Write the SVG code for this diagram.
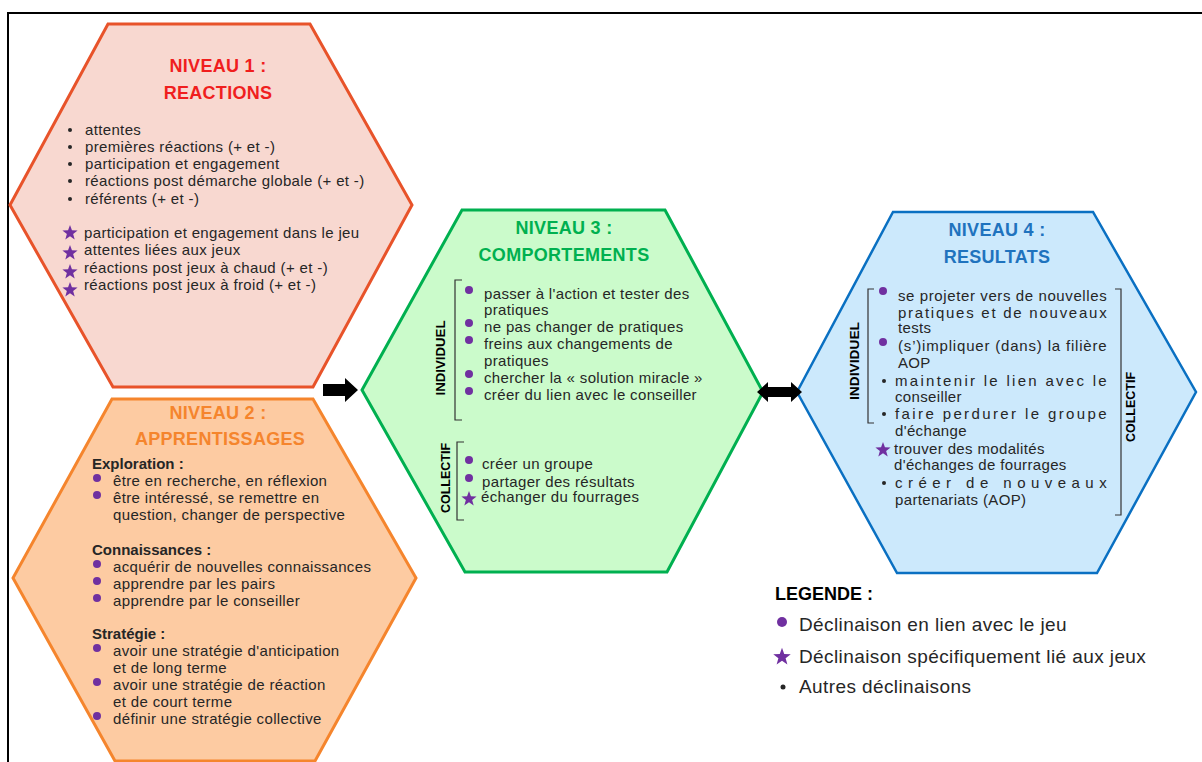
<svg xmlns="http://www.w3.org/2000/svg" xmlns:xlink="http://www.w3.org/1999/xlink" width="1202" height="762" viewBox="0 0 1202 762">
<style>
text{font-family:"Liberation Sans",Arial,sans-serif;}
.t{font-size:15px;letter-spacing:0.35px;fill:#262626;}
.h{font-size:18px;font-weight:bold;text-anchor:middle;letter-spacing:0.3px;}
.b{font-size:15px;font-weight:bold;fill:#262626;}
.v{font-size:13px;font-weight:bold;fill:#000;text-anchor:middle;}
.lg{font-size:19px;letter-spacing:0.4px;fill:#262626;}
.dot{fill:#7030A0;}
.bul{fill:#262626;}
.br{fill:none;stroke:#333;stroke-width:1.2;}
</style>
<defs>
<path id="star" d="M0,-8 L1.94,-2.67 L7.61,-2.47 L3.14,1.02 L4.70,6.47 L0,3.3 L-4.70,6.47 L-3.14,1.02 L-7.61,-2.47 L-1.94,-2.67 Z" fill="#7030A0"/>
</defs>
<rect width="1202" height="762" fill="#fff"/>
<path d="M8,762 L8,13 L1202,13" fill="none" stroke="#000" stroke-width="2"/>

<g id="niveau1">
<polygon points="108,24 310,24 412,205 313,387 113,387 10,205" fill="#F8D8D0" stroke="#E8532A" stroke-width="3"/>
<text class="h" x="218" y="72" fill="#F01E1E">NIVEAU 1  :</text>
<text class="h" x="218" y="99" fill="#F01E1E">REACTIONS</text>
<circle class="bul" cx="70" cy="130" r="2"/>
<circle class="bul" cx="70" cy="147" r="2"/>
<circle class="bul" cx="70" cy="164" r="2"/>
<circle class="bul" cx="70" cy="181" r="2"/>
<circle class="bul" cx="70" cy="199" r="2"/>
<text class="t" x="85" y="135">attentes</text>
<text class="t" x="85" y="152">premières réactions (+ et -)</text>
<text class="t" x="85" y="169">participation et engagement</text>
<text class="t" x="85" y="186">réactions post démarche globale (+ et -)</text>
<text class="t" x="85" y="204">référents (+ et -)</text>
<use xlink:href="#star" x="70" y="233"/>
<use xlink:href="#star" x="70" y="253"/>
<use xlink:href="#star" x="70" y="272"/>
<use xlink:href="#star" x="70" y="290"/>
<text class="t" x="84" y="238">participation et engagement dans le jeu</text>
<text class="t" x="84" y="255">attentes liées aux jeux</text>
<text class="t" x="84" y="273">réactions post jeux à chaud  (+ et -)</text>
<text class="t" x="84" y="290">réactions post jeux à froid (+ et -)</text>
</g>

<g id="niveau2">
<polygon points="112,399 313,399 416,578 315,761 115,761 13,578" fill="#FDCBA2" stroke="#F5852D" stroke-width="3"/>
<text class="h" x="218" y="419" fill="#F5852D">NIVEAU 2 :</text>
<text class="h" x="220" y="445" fill="#F5852D">APPRENTISSAGES</text>
<text class="b" x="92" y="469">Exploration  :</text>
<circle class="dot" cx="97" cy="478" r="4"/>
<circle class="dot" cx="97" cy="495" r="4"/>
<text class="t" x="113" y="486">être en recherche, en réflexion</text>
<text class="t" x="113" y="503">être intéressé, se remettre en</text>
<text class="t" x="113" y="520">question, changer de perspective</text>
<text class="b" x="92" y="555">Connaissances  :</text>
<circle class="dot" cx="97" cy="564" r="4"/>
<circle class="dot" cx="97" cy="581" r="4"/>
<circle class="dot" cx="97" cy="598" r="4"/>
<text class="t" x="113" y="572">acquérir de nouvelles connaissances</text>
<text class="t" x="113" y="589">apprendre par les pairs</text>
<text class="t" x="113" y="606">apprendre par le conseiller</text>
<text class="b" x="92" y="639">Stratégie  :</text>
<circle class="dot" cx="97" cy="648" r="4"/>
<circle class="dot" cx="97" cy="682" r="4"/>
<circle class="dot" cx="97" cy="716" r="4"/>
<text class="t" x="113" y="656">avoir une stratégie d'anticipation</text>
<text class="t" x="113" y="673">et de long terme</text>
<text class="t" x="113" y="690">avoir une stratégie de réaction</text>
<text class="t" x="113" y="707">et de court terme</text>
<text class="t" x="113" y="724">définir une stratégie collective</text>
</g>

<g id="niveau3">
<polygon points="462,210 665,210 763,392 667,572 465,572 362,390" fill="#CBFBCB" stroke="#00B050" stroke-width="3"/>
<text class="h" x="564" y="234" fill="#00B050">NIVEAU 3 :</text>
<text class="h" x="564" y="261" fill="#00B050">COMPORTEMENTS</text>
<path class="br" d="M462,280 L455,280 L455,420 L462,420"/>
<text class="v" transform="translate(445,358) rotate(-90)" textLength="75" lengthAdjust="spacingAndGlyphs">INDIVIDUEL</text>
<circle class="dot" cx="469" cy="290" r="4"/>
<circle class="dot" cx="469" cy="323" r="4"/>
<circle class="dot" cx="469" cy="340" r="4"/>
<circle class="dot" cx="469" cy="374" r="4"/>
<circle class="dot" cx="469" cy="391" r="4"/>
<text class="t" x="484" y="299">passer à l'action et tester des</text>
<text class="t" x="484" y="315">pratiques</text>
<text class="t" x="484" y="332">ne pas changer de pratiques</text>
<text class="t" x="484" y="349">freins aux changements de</text>
<text class="t" x="484" y="366">pratiques</text>
<text class="t" x="484" y="383">chercher la « solution miracle »</text>
<text class="t" x="484" y="400">créer du lien avec le conseiller</text>
<path class="br" d="M464,442 L457,442 L457,520 L464,520"/>
<text class="v" transform="translate(450,478) rotate(-90)" textLength="70" lengthAdjust="spacingAndGlyphs">COLLECTIF</text>
<circle class="dot" cx="469" cy="460" r="4"/>
<circle class="dot" cx="469" cy="478" r="4"/>
<use xlink:href="#star" x="469" y="499"/>
<text class="t" x="482" y="469">créer un groupe</text>
<text class="t" x="482" y="487">partager des résultats</text>
<text class="t" x="481" y="502">échanger du fourrages</text>
</g>

<g id="niveau4">
<polygon points="893,212 1093,212 1196,392 1097,573 897,573 797,392" fill="#CCE9FC" stroke="#0A70C2" stroke-width="2.5"/>
<text class="h" x="997" y="236" fill="#1F73BE">NIVEAU 4 :</text>
<text class="h" x="997" y="263" fill="#1F73BE">RESULTATS</text>
<path class="br" d="M874,289 L868,289 L868,423 L874,423"/>
<text class="v" transform="translate(859,361) rotate(-90)" textLength="78" lengthAdjust="spacingAndGlyphs">INDIVIDUEL</text>
<path class="br" d="M1115,289 L1121,289 L1121,515 L1115,515"/>
<text class="v" transform="translate(1135,407) rotate(-90)" textLength="70" lengthAdjust="spacingAndGlyphs">COLLECTIF</text>
<circle class="dot" cx="883" cy="291" r="4"/>
<circle class="dot" cx="883" cy="342" r="4"/>
<text class="t" x="898" y="301" textLength="209" lengthAdjust="spacing">se projeter vers de nouvelles</text>
<text class="t" x="898" y="318" textLength="209" lengthAdjust="spacing">pratiques et de nouveaux</text>
<text class="t" x="898" y="333">tests</text>
<text class="t" x="898" y="351" textLength="209" lengthAdjust="spacing">(s’)impliquer (dans) la filière</text>
<text class="t" x="898" y="368">AOP</text>
<circle class="bul" cx="884" cy="381" r="2"/>
<text class="t" x="895" y="386" textLength="212" lengthAdjust="spacing">maintenir le lien avec le</text>
<text class="t" x="895" y="402">conseiller</text>
<circle class="bul" cx="884" cy="414" r="2"/>
<text class="t" x="895" y="419" textLength="212" lengthAdjust="spacing">faire perdurer le groupe</text>
<text class="t" x="895" y="436">d'échange</text>
<use xlink:href="#star" x="883" y="450"/>
<text class="t" x="894" y="454">trouver des modalités</text>
<text class="t" x="894" y="470">d'échanges de fourrages</text>
<circle class="bul" cx="884" cy="483" r="2"/>
<text class="t" x="895" y="488" textLength="212" lengthAdjust="spacing">créer de nouveaux</text>
<text class="t" x="895" y="505">partenariats (AOP)</text>
</g>

<g id="connectors">
<polygon points="323,384 345,384 345,378 358,390 345,402 345,396 323,396" fill="#000"/>
<polygon points="757,392 768,382 768,387 791,387 791,382 802,392 791,402 791,397 768,397 768,402" fill="#000"/>
</g>

<g id="legende">
<text x="775" y="600" style="font-size:18px;font-weight:bold;fill:#000">LEGENDE :</text>
<circle class="dot" cx="782" cy="622" r="5"/>
<text class="lg" x="799" y="631">Déclinaison en lien avec le jeu</text>
<use xlink:href="#star" transform="translate(782,657) scale(1.15)"/>
<text class="lg" x="799" y="663">Déclinaison spécifiquement lié aux jeux</text>
<circle class="bul" cx="783" cy="687" r="2.5"/>
<text class="lg" x="799" y="693">Autres déclinaisons</text>
</g>
</svg>
